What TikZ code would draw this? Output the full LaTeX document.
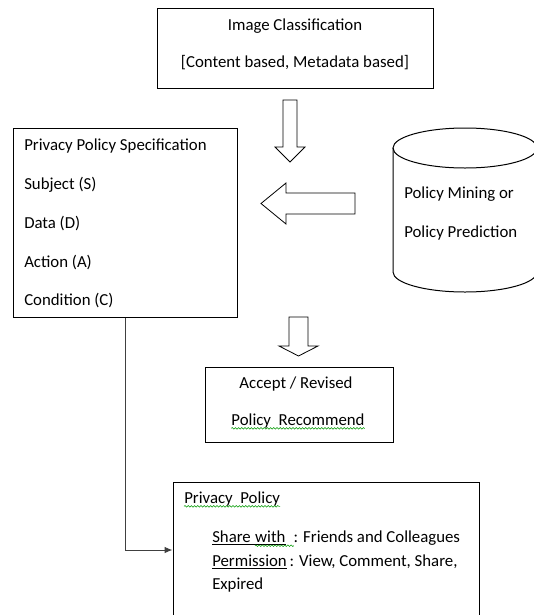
\documentclass[tikz,border=0pt]{standalone}
\usepackage{fontspec}
\setmainfont{Carlito}
\usetikzlibrary{arrows.meta,decorations.pathmorphing}

\tikzset{
  box/.style={draw, line width=0.75pt, inner sep=0pt},
  txt/.style={anchor=base west, inner sep=0pt},
  ctxt/.style={anchor=base, inner sep=0pt},
  fat/.style={draw, line width=0.6pt, fill=white},
  squiggle/.style={draw=green!60!black, line width=0.4pt, decorate,
    decoration={snake, amplitude=0.6pt, segment length=2.4pt}},
  conn/.style={draw=black!75, line width=0.75pt, -{Latex[length=6pt,width=5pt]}},
}

\begin{document}
\begin{tikzpicture}[x=0.75pt, y=-0.75pt, font=\fontsize{12.6}{15}\selectfont]
    \useasboundingbox (0,0) rectangle (534,615);

    % boxes
    \node[box, minimum width=207pt, minimum height=60pt] (cls) at (295,48) {};
    \node[box, minimum width=168pt, minimum height=141.75pt] (spec) at (125,222.5) {};
    \node[box, minimum width=141pt, minimum height=56.25pt] (acc) at (299,404.5) {};
    \node[box, minimum width=229.5pt, minimum height=102pt] (pol) at (326,550) {};

    % cylinder
    \draw[box] (465,148) ellipse [x radius=54pt, y radius=15pt];
    \draw[box] (393,148) -- (393,272) arc [start angle=180, end angle=360, x radius=54pt, y radius=15pt] -- (537,148);

    % block arrows
    \draw[fat] (283,100) -- (297,100) -- (297,147) -- (305,147) -- (290,162) -- (275,147) -- (283,147) -- cycle;
    \draw[fat] (355,193) -- (286,193) -- (286,183) -- (261,203.5) -- (286,224) -- (286,214) -- (355,214) -- cycle;
    \draw[fat] (289,317) -- (308,317) -- (308,346) -- (318,346) -- (298.5,356) -- (279,346) -- (289,346) -- cycle;

    % texts
    \node[ctxt] (cls1) at (295,30) {Image Classification};
    \node[ctxt] (cls2) at (295,67) {[Content based, Metadata based]};

    \node[txt] (sp1) at (24,150) {Privacy Policy Specification};
    \node[txt] (sp2) at (24,189) {Subject (S)};
    \node[txt] (sp3) at (24,228) {Data (D)};
    \node[txt] (sp4) at (24,267) {Action (A)};
    \node[txt] (sp5) at (24,305) {Condition (C)};

    \node[txt] (mine1) at (404,198) {Policy Mining or};
    \node[txt] (mine2) at (404,237) {Policy Prediction};

    \node[ctxt] (acc1) at (296,388) {Accept / Revised};
    \node[ctxt] (acc2) at (298,425) {Policy\ \ Recommend};
    \draw[squiggle] ([yshift=-2.5pt]acc2.base west) -- ([yshift=-2.5pt]acc2.base east);

    \node[txt] (pp) at (184,503) {Privacy\ \ Policy};
    \draw[squiggle] ([yshift=-2.5pt]pp.base west) -- ([yshift=-2.5pt]pp.base east);
    \node[txt] (sh1) at (212,542) {\underline{Share\ }};
    \node[txt] (sh2) at (sh1.base east) {\underline{with}};
    \node[txt] (sh3) at (sh2.base east) {\ \ : Friends and Colleagues};
    \draw[squiggle] ([yshift=-2.8pt]sh2.base west) -- ([yshift=-2.8pt,xshift=6pt]sh3.base west);
    \node[txt] (perm) at (212,566) {\underline{Permission}\,: View, Comment, Share,};
    \node[txt] (exp) at (212,589) {Expired};

    % connector
    \draw[conn] (spec.south) |- (pol.west);
\end{tikzpicture}
\end{document}
